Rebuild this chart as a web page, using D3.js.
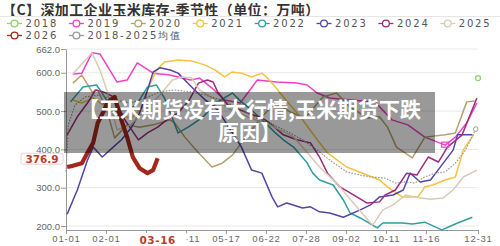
<!DOCTYPE html>
<html>
<head>
<meta charset="utf-8">
<script src="https://cdn.jsdelivr.net/npm/d3@7"></script>
<style>
  body { margin: 0; background: #fff; }
  svg { display: block; font-family: "DejaVu Sans", sans-serif; }
</style>
</head>
<body>
<div id="chart_area"></div>
<script>
// values: [day of year, 万吨]
var s2018 = [[364, 586]];
var s2019 = [[6,597],[14,599],[23,652],[30,649],[45,576],[54,581],[63,626],[77,599],[92,594],[110,581],[118,586],[129,560],[140,529],[154,521],[169,581],[186,576],[204,573],[213,568],[222,547],[233,534],[251,529],[273,524],[288,477],[302,464],[317,432],[335,411],[344,432],[354,469],[363,521]];
var s2020 = [[6,573],[14,594],[23,550],[28,555],[36,503],[43,430],[54,464],[65,458],[77,464],[92,477],[96,469],[105,432],[117,391],[129,354],[138,364],[147,385],[155,417],[164,451],[173,485],[185,521],[198,498],[211,482],[227,537],[239,547],[251,511],[266,482],[277,485],[284,458],[292,406],[306,378],[317,432],[335,438],[344,443],[354,524],[361,526]];
var s2021 = [[6,529],[14,521],[24,534],[33,516],[46,490],[58,482],[68,511],[72,555],[80,607],[87,628],[99,633],[111,631],[123,620],[132,607],[140,589],[147,602],[155,599],[164,589],[173,599],[178,586],[185,563],[192,537],[207,485],[222,425],[231,391],[248,354],[266,333],[277,320],[284,302],[297,276],[311,276],[317,302],[324,307],[335,320],[344,328],[351,398],[360,438]];
var s2022 = [[4,524],[15,563],[27,568],[32,547],[41,503],[52,490],[65,529],[72,563],[80,568],[87,534],[99,443],[108,458],[120,482],[134,524],[147,547],[155,524],[164,503],[176,469],[185,443],[192,425],[201,406],[213,365],[218,338],[224,320],[236,307],[245,268],[251,234],[260,221],[275,195],[280,208],[297,208],[306,205],[317,210],[332,190],[346,208],[359,223]];
var s2023 = [[1,231],[10,294],[19,372],[24,406],[32,380],[41,404],[49,425],[58,458],[65,495],[72,555],[77,602],[83,613],[92,607],[99,599],[111,563],[123,529],[134,503],[147,443],[155,406],[164,346],[173,338],[182,276],[187,250],[195,260],[209,247],[216,250],[224,237],[233,234],[245,223],[260,242],[269,255],[277,276],[289,281],[298,294],[304,338],[313,315],[322,320],[330,351],[342,398],[346,438],[359,438]];
var s2024 = [[1,438],[10,485],[19,521],[26,555],[33,550],[42,537],[52,477],[64,425],[72,443],[81,458],[89,477],[99,495],[109,529],[117,573],[125,581],[130,576],[134,550],[143,516],[158,498],[173,482],[180,469],[192,438],[204,425],[216,417],[224,380],[231,338],[242,302],[257,276],[266,260],[277,263],[282,281],[291,294],[301,338],[310,333],[320,380],[329,367],[337,406],[350,438],[363,534]];
var s2025 = [[6,597],[23,652],[30,607],[36,555],[45,451],[57,464],[70,503],[83,542],[94,581],[103,589],[111,586],[118,555],[132,529],[146,503],[163,482],[180,464],[201,433],[209,406],[224,354],[239,312],[254,260],[269,208],[271,203],[280,242],[289,255],[300,281],[307,276],[322,270],[333,273],[342,294],[351,328],[363,346]];
var s2026 = [[1,354],[6,357],[14,364],[19,391],[24,417],[28,469],[33,498],[37,524],[43,537],[48,485],[54,432],[59,380],[65,351],[72,338],[77,346],[81,376.9]];
var sAvg = [[0,341],[2,464],[8,516],[17,537],[30,542],[43,529],[57,521],[70,534],[83,550],[96,555],[110,550],[123,542],[137,529],[155,503],[168,482],[180,469],[198,443],[209,425],[222,398],[233,372],[248,341],[260,333],[269,328],[282,325],[291,312],[300,315],[308,312],[317,328],[326,338],[335,341],[344,364],[353,398],[362,453]];

var seriesNames = ["2018","2019","2020","2021","2022","2023","2024","2025","2026","2018-2025均值"];
var seriesColors = ["#8fd46c","#f23fc8","#b3a26d","#f6c33c","#2f9ea0","#5546a6","#9b2c7e","#d9cbb6","#a3281c","#9a9a9a"];
var yTicks = [200, 300, 400, 500, 600, 662];
var tickDays = [0, 35.3, 70.7, 106, 141.3, 176.7, 212, 247.3, 282.7, 318, 364];
// third label sits under the 03-16 marker and cannot be read
var tickLabels = ["01-01","02-01","","04-11","05-17","06-22","07-28","09-02","10-11","11-16","12-31"];
var lastDay = 81, lastDate = "03-16", lastValue = 376.9;

var W = 500, H = 246;
var svg = d3.select("#chart_area").append("svg").attr("width", W).attr("height", H);

var x = d3.scaleLinear().domain([0, 364]).range([66, 478]);
var y = d3.scaleLinear().domain([189.6, 662]).range([230, 49]);

// title
svg.append("text").attr("x", 2).attr("y", 8.5).attr("dominant-baseline", "central")
  .style("font-family", "'Noto Sans CJK SC'").style("font-weight", "bold")
  .style("font-size", "14px").style("letter-spacing", "0.4px").attr("fill", "#333")
  .text("【C】深加工企业玉米库存-季节性（单位：万吨）");
svg.append("line").attr("x1", 0).attr("x2", W).attr("y1", 16.5).attr("y2", 16.5)
  .attr("stroke", "#e6e6e6");

// legend
seriesNames.forEach(function(name, i) {
  var row = i < 8 ? 0 : 1, col = i < 8 ? i : i - 8;
  var lx = 7 + col * 61.9, ly = 23.5 + row * 12;
  var g = svg.append("g");
  g.append("line").attr("x1", lx).attr("x2", lx + 15).attr("y1", ly).attr("y2", ly)
    .attr("stroke", seriesColors[i]).attr("stroke-width", 1.3);
  g.append("circle").attr("cx", lx + 7.5).attr("cy", ly).attr("r", 3.4)
    .attr("fill", "#fff").attr("stroke", seriesColors[i]).attr("stroke-width", 1.3);
  g.append("text").attr("x", lx + 18.5).attr("y", ly).attr("dominant-baseline", "central")
    .style("font-size", "10px").style("letter-spacing", "1.8px").attr("fill", "#555")
    .text(name);
});

// grid
svg.append("g").selectAll("line").data(yTicks).enter().append("line")
  .attr("x1", 66).attr("x2", 478)
  .attr("y1", d => y(d)).attr("y2", d => y(d))
  .attr("stroke", "#e8e8e8");

// y axis
var yAxis = svg.append("g").attr("transform", "translate(66,0)")
  .call(d3.axisLeft(y).tickValues(yTicks).tickFormat(d3.format(".1f")).tickSize(5).tickSizeOuter(0));
yAxis.selectAll("path, line").attr("stroke", "#999");
yAxis.selectAll("text").style("font-size", "9.5px").attr("fill", "#666").attr("x", -6);

// x axis
var xAxis = svg.append("g").attr("transform", "translate(0," + y(189.6) + ")")
  .call(d3.axisBottom(x).tickValues(tickDays).tickFormat((d, i) => tickLabels[i]).tickSize(4).tickSizeOuter(0));
xAxis.selectAll("path, line").attr("stroke", "#999");
xAxis.selectAll("text").style("font-size", "9.5px").style("letter-spacing", "0.8px")
  .attr("fill", "#666").attr("dy", "0.55em");

// series
var line = d3.line().x(d => x(d[0])).y(d => y(d[1]));
var allSeries = [s2018, s2019, s2020, s2021, s2022, s2023, s2024, s2025, sAvg, s2026];
var idx = [0, 1, 2, 3, 4, 5, 6, 7, 9, 8];
allSeries.forEach(function(s, k) {
  var i = idx[k];
  if (s.length < 2) return;
  svg.append("path").datum(s).attr("d", line).attr("fill", "none")
    .attr("stroke", seriesColors[i])
    .attr("stroke-width", i === 8 ? 4.2 : (i === 9 ? 1.2 : 1.5))
    .attr("stroke-dasharray", i === 9 ? "1.6,1.4" : null)
    .attr("stroke-linejoin", "round");
});

// end markers
svg.append("circle").attr("cx", x(s2018[0][0])).attr("cy", y(s2018[0][1])).attr("r", 2.5)
  .attr("fill", "#fff").attr("stroke", seriesColors[0]).attr("stroke-width", 1.3);
var aLast = sAvg[sAvg.length - 1];
svg.append("circle").attr("cx", x(aLast[0])).attr("cy", y(aLast[1])).attr("r", 2.3)
  .attr("fill", "#fff").attr("stroke", seriesColors[9]).attr("stroke-width", 1);
var pk = s2019[25];
svg.append("rect").attr("x", x(pk[0]) - 3.5).attr("y", y(pk[1]) - 3).attr("width", 7).attr("height", 5)
  .attr("fill", "none").attr("stroke", seriesColors[1]).attr("stroke-width", 1.2);

// overlay banner
svg.append("rect").attr("x", 64).attr("y", 92).attr("width", 371).attr("height", 61)
  .attr("fill", "rgba(0,0,0,0.4)");
var bannerLines = ["【玉米期货没有大行情,玉米期货下跌", "原因】"];
bannerLines.forEach(function(t, i) {
  svg.append("text").attr("x", 249.5).attr("y", 108 + i * 22.5)
    .attr("text-anchor", "middle").attr("dominant-baseline", "central")
    .style("font-family", "'Noto Sans CJK SC'").style("font-weight", "bold")
    .style("font-size", "21px").attr("fill", "#fff").text(t);
});

// current value markers
svg.append("rect").attr("x", 21).attr("y", y(lastValue) - 5).attr("width", 42).attr("height", 11)
  .attr("rx", 2).attr("fill", "#fff").attr("stroke", "#e6c4c0").attr("stroke-width", 0.8);
svg.append("text").attr("x", 42).attr("y", y(lastValue) + 0.5).attr("text-anchor", "middle")
  .attr("dominant-baseline", "central").style("font-size", "10.5px").style("font-weight", "bold")
  .attr("fill", "#c0392b").text(lastValue.toFixed(1));

svg.append("rect").attr("x", x(lastDay) - 20).attr("y", 233).attr("width", 49).attr("height", 13)
  .attr("fill", "#fff");
svg.append("text").attr("x", x(lastDay)).attr("y", 240).attr("text-anchor", "middle")
  .attr("dominant-baseline", "central").style("font-size", "10.5px").style("font-weight", "bold")
  .style("letter-spacing", "0.6px").attr("fill", "#c0392b").text(lastDate);
</script>
</body>
</html>
